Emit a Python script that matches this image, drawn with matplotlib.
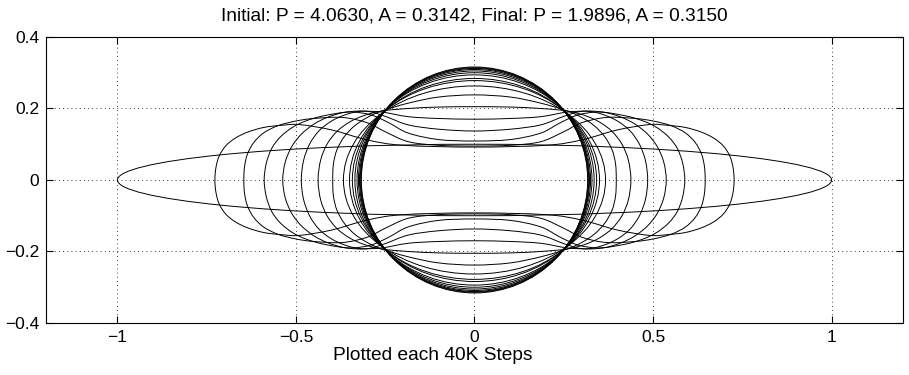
import matplotlib.pyplot as plt
import numpy as np
from matplotlib.path import Path
from matplotlib.patches import PathPatch, Ellipse

plt.rcParams['font.family'] = ['Liberation Sans', 'DejaVu Sans']

# initial ellipse (semi-axes)
ell_a = 1.0
ell_b = 0.1

# upper-right quarter of each snapshot: (x, y) from the neck to the tip
snap1 = [(0, .092), (0.2, .097), (0.3, .112), (0.4, .14), (0.49, .155), (0.54, .153), (0.59, .147),
         (0.635, .134), (0.67, .117), (0.697, .095), (0.715, .067), (0.724, .035), (0.727, 0)]
snap2 = [(0, .095), (0.1, .097), (0.185, .107), (0.25, .135), (0.3, .16), (0.37, .175), (0.45, .172),
         (0.5, .165), (0.55, .152), (0.59, .132), (0.618, .105), (0.636, .072), (0.644, .037), (0.646, 0)]
snap3 = [(0, .109), (0.1, .113), (0.185, .131), (0.24, .16), (0.29, .182), (0.35, .19), (0.42, .18),
         (0.47, .166), (0.51, .147), (0.544, .12), (0.568, .088), (0.583, .047), (0.589, 0)]
snap4 = [(0, .137), (0.1, .142), (0.185, .154), (0.25, .178), (0.3, .192), (0.36, .19), (0.41, .176),
         (0.45, .156), (0.485, .128), (0.512, .093), (0.53, .05), (0.537, 0)]
snap5 = [(0, .170), (0.1, .172), (0.185, .177), (0.26, .19), (0.32, .192), (0.36, .183), (0.40, .165),
         (0.435, .138), (0.462, .1), (0.479, .053), (0.485, 0)]
snap6 = [(0, .205), (0.1, .204), (0.185, .2), (0.26, .193), (0.31, .18), (0.35, .162), (0.385, .136),
         (0.413, .1), (0.431, .055), (0.438, 0)]
snap7 = [(0, .238), (0.1, .232), (0.185, .215), (0.26, .193), (0.3, .175), (0.335, .152), (0.364, .122),
         (0.385, .085), (0.395, .045), (0.397, 0)]
snapshots = [snap1, snap2, snap3, snap4, snap5, snap6, snap7]

# later, nearly elliptic snapshots: half-width at y=0, half-height at x=0
late_xe = [0.367, 0.350, 0.342, 0.335, 0.329, 0.325, 0.322, 0.320, 0.318, 0.317]
late_yn = [0.263, 0.278, 0.284, 0.294, 0.300, 0.305, 0.309, 0.312, 0.314, 0.316]

xticks = [-1, -0.5, 0, 0.5, 1]
xticklabels = ['\u22121', '\u22120.5', '0', '0.5', '1']
yticks = [-0.4, -0.2, 0, 0.2, 0.4]
yticklabels = ['\u22120.4', '\u22120.2', '0', '0.2', '0.4']


def closed_loop(quarter):
    q = np.array(quarter, dtype=float)
    ur = q[::-1]                      # tip -> neck
    ul = q[1:] * [-1, 1]              # neck -> left tip
    ll = q[::-1][1:] * [-1, -1]       # left tip -> bottom neck
    lr = q[1:-1] * [1, -1]            # bottom neck -> before right tip
    return np.vstack([ur, ul, ll, lr])


def smooth_path(pts):
    # closed Catmull-Rom through the points, as cubic Bezier segments
    n = len(pts)
    verts = [pts[0]]
    codes = [Path.MOVETO]
    for i in range(n):
        p0, p1, p2, p3 = pts[i - 1], pts[i], pts[(i + 1) % n], pts[(i + 2) % n]
        verts += [p1 + (p2 - p0) / 6, p2 - (p3 - p1) / 6, p2]
        codes += [Path.CURVE4] * 3
    return Path(verts, codes)


fig = plt.figure(figsize=(9.09, 3.75), dpi=100)
ax = fig.add_axes([0.0506, 0.1387, 0.9428, 0.7627])

ax.add_patch(Ellipse((0, 0), 2 * ell_a, 2 * ell_b, fill=False, color='k', lw=0.7))
for s in snapshots:
    ax.add_patch(PathPatch(smooth_path(closed_loop(s)), fill=False, color='k', lw=0.7))
for xe, yn in zip(late_xe, late_yn):
    ax.add_patch(Ellipse((0, 0), 2 * xe, 2 * yn, fill=False, color='k', lw=0.7))

ax.set_xlim(-1.2, 1.2)
ax.set_ylim(-0.4, 0.4)
ax.set_xticks(xticks)
ax.set_xticklabels(xticklabels)
ax.set_yticks(yticks)
ax.set_yticklabels(yticklabels)
ax.tick_params(direction='in', length=5, width=0.8, top=True, right=True, labelsize=12.5, pad=5)
ax.grid(True, color='k', linestyle=(0, (1, 4)), linewidth=0.6)
for sp in ax.spines.values():
    sp.set_linewidth(0.8)

ax.set_title('Initial: P = 4.0630, A = 0.3142, Final: P = 1.9896, A = 0.3150', fontsize=13.8, pad=12)
ax.set_xlabel('Plotted each 40K Steps', fontsize=13.8, labelpad=7)
ax.xaxis.set_label_coords(0.451, -0.085, transform=ax.transAxes)
ax.xaxis.label.set_verticalalignment('top')

fig.savefig('out.png', dpi=100)
